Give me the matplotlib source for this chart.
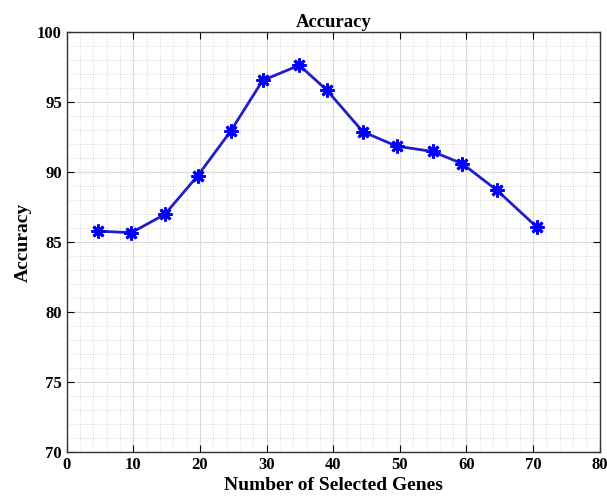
import matplotlib
matplotlib.use("Agg")
import matplotlib.pyplot as plt
from matplotlib.ticker import MultipleLocator

genes = [4.7, 9.7, 14.7, 19.65, 24.6, 29.4, 34.9, 39.0, 44.45, 49.5, 54.9, 59.4, 64.6, 70.6]
accuracy = [85.79, 85.68, 86.98, 89.74, 92.93, 96.55, 97.64, 95.88, 92.89, 91.86, 91.48, 90.6, 88.7, 86.06]

plt.rcParams['font.family'] = ['Liberation Serif', 'DejaVu Serif']
plt.rcParams['font.weight'] = 'bold'

fig = plt.figure(figsize=(6.07, 5.03), dpi=100)
ax = fig.add_axes([0.110, 0.101, 0.878, 0.835])

# line first, then asterisk markers (MATLAB style '*')
ax.plot(genes, accuracy, color='#1f1fc8', lw=2, zorder=3)
ax.plot(genes, accuracy, ls='none', marker=(8, 2, 0), markersize=10,
        markeredgewidth=2, color='blue', zorder=4)

ax.set_xlim(0, 80)
ax.set_ylim(70, 100)
ax.xaxis.set_major_locator(MultipleLocator(10))
ax.xaxis.set_minor_locator(MultipleLocator(2))
ax.yaxis.set_major_locator(MultipleLocator(5))
ax.yaxis.set_minor_locator(MultipleLocator(1))

ax.grid(which='major', color='#d9d9d9', lw=0.8, ls='-')
ax.grid(which='minor', color='#c8c8c8', lw=0.6, ls=(0, (1, 2)))
ax.set_axisbelow(True)

ax.tick_params(which='both', direction='in', top=True, right=True, labelsize=12)
ax.tick_params(which='major', length=5)
ax.tick_params(which='minor', length=0)
for lbl in ax.get_xticklabels() + ax.get_yticklabels():
    lbl.set_fontweight('bold')
for s in ax.spines.values():
    s.set_color('#333333')
    s.set_linewidth(1)

ax.set_title('Accuracy', fontsize=13.5, fontweight='bold', pad=4)
ax.set_xlabel('Number of Selected Genes', fontsize=14, fontweight='bold', labelpad=3)
ax.set_ylabel('Accuracy', fontsize=14, fontweight='bold', labelpad=4)

fig.savefig('out.png', dpi=100)
